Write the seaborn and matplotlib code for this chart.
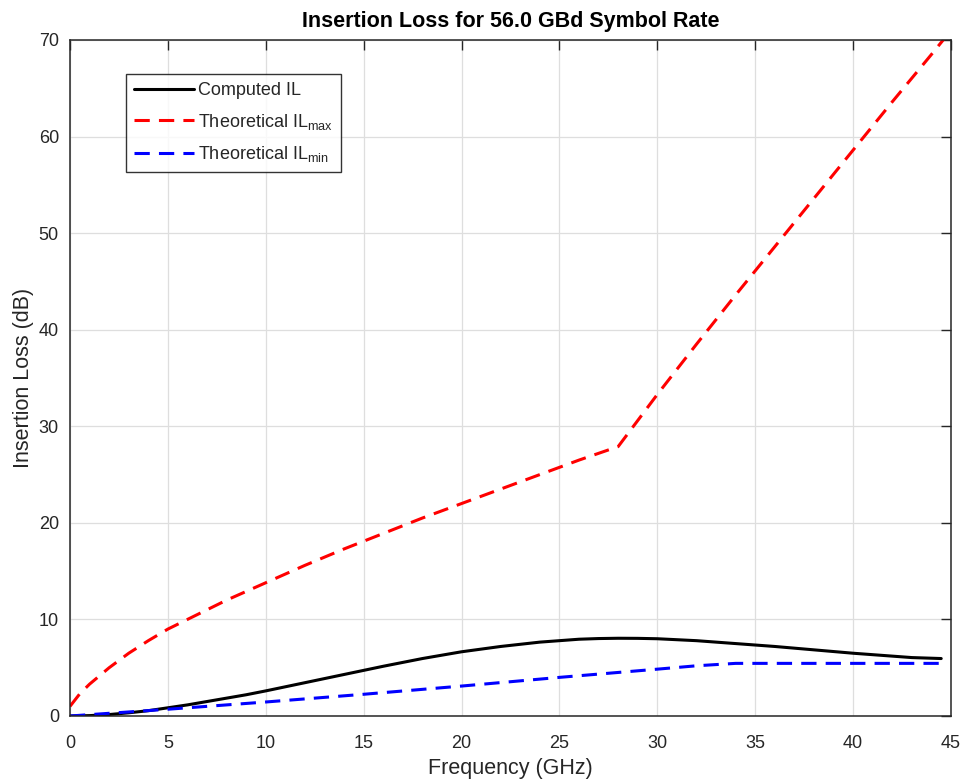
import numpy as np
import pandas as pd
import matplotlib
matplotlib.use("Agg")
import matplotlib.pyplot as plt
import seaborn as sns

# ---- data ----
freq_computed = [0, 1, 2, 3, 4, 5, 6, 7, 8, 9, 10, 12, 14, 16, 18, 20, 22, 24, 26, 27, 28, 29, 30,
                 32, 34, 36, 38, 40, 42, 43, 44.5]
il_computed = [0.0, 0.04, 0.15, 0.33, 0.55, 0.85, 1.15, 1.5, 1.85, 2.2, 2.6, 3.45, 4.3, 5.15, 5.95,
               6.65, 7.2, 7.65, 7.95, 8.02, 8.05, 8.04, 8.0, 7.8, 7.5, 7.2, 6.85, 6.5, 6.2, 6.05, 5.95]

freq_max = [0, 0.5, 1, 2, 3, 4, 5, 6, 7, 8, 9, 10, 12, 14, 16, 18, 20, 22, 24, 26, 28,
            30, 32, 34, 36, 38, 40, 42, 44, 44.8]
il_max = [1.0, 2.3, 3.3, 5.0, 6.5, 7.8, 9.0, 10.0, 11.0, 12.0, 12.9, 13.8, 15.6, 17.3, 18.9, 20.5,
          22.0, 23.5, 25.0, 26.5, 27.9, 33.3, 38.5, 43.6, 48.6, 53.6, 58.6, 63.6, 68.5, 70.5]

freq_min = [0, 5, 10, 15, 20, 25, 30, 32, 34, 36, 40, 44.5]
il_min = [0.0, 0.7, 1.45, 2.25, 3.1, 4.0, 4.85, 5.2, 5.45, 5.45, 5.45, 5.45]

series_names = ["Computed IL", r"Theoretical IL$_\mathregular{max}$", r"Theoretical IL$_\mathregular{min}$"]
series_colors = ["black", "#ff0000", "#0000ff"]

title_text = "Insertion Loss for 56.0 GBd Symbol Rate"
xlabel_text = "Frequency (GHz)"
ylabel_text = "Insertion Loss (dB)"
xticks = [0, 5, 10, 15, 20, 25, 30, 35, 40, 45]
yticks = [0, 10, 20, 30, 40, 50, 60, 70]

df = pd.concat([
    pd.DataFrame({"f": freq_computed, "il": il_computed, "s": series_names[0]}),
    pd.DataFrame({"f": freq_max, "il": il_max, "s": series_names[1]}),
    pd.DataFrame({"f": freq_min, "il": il_min, "s": series_names[2]}),
], ignore_index=True)

sns.set_style("white")
plt.rcParams["font.family"] = ["Liberation Sans", "DejaVu Sans"]
plt.rcParams["mathtext.fontset"] = "custom"
plt.rcParams["mathtext.rm"] = "Liberation Sans"

tc = "#262626"
fig = plt.figure(figsize=(9.64, 7.8), dpi=100)
ax = fig.add_axes([70 / 964, 1 - 716 / 780, 881 / 964, 676 / 780])

sns.lineplot(data=df, x="f", y="il", hue="s", style="s", hue_order=series_names,
             style_order=series_names, palette=series_colors,
             dashes={series_names[0]: "", series_names[1]: (5.0, 3.0), series_names[2]: (5.0, 3.0)},
             linewidth=2.2, sort=False, estimator=None, ax=ax)

ax.set_xlim(0, 45)
ax.set_ylim(0, 70)
ax.set_xticks(xticks)
ax.set_yticks(yticks)
ax.grid(True, color="#dedede", linewidth=0.9)
ax.set_axisbelow(True)
for sp in ax.spines.values():
    sp.set_visible(True)
    sp.set_color(tc)
    sp.set_linewidth(1.1)
ax.tick_params(direction="in", length=7, width=1.0, color=tc, top=True, right=True,
               labelsize=13, labelcolor=tc)
ax.tick_params(axis="x", pad=14)
ax.tick_params(axis="y", pad=8)

ax.set_title(title_text, fontsize=15.5, fontweight="bold", color="black", pad=9)
ax.set_xlabel(xlabel_text, fontsize=15.5, color=tc, labelpad=4)
ax.set_ylabel(ylabel_text, fontsize=15.5, color=tc, labelpad=3)

handles, labels = ax.get_legend_handles_labels()
leg = ax.legend(handles, labels, loc="upper left", bbox_to_anchor=(0.0636, 0.950),
                borderaxespad=0, frameon=True, fancybox=False, fontsize=13,
                handlelength=3.3, handletextpad=0.25, labelspacing=0.7, borderpad=0.45)
leg.get_frame().set_edgecolor("black")
leg.get_frame().set_linewidth(1.0)
for t in leg.get_texts():
    t.set_color(tc)

fig.savefig("out.png", dpi=100)
